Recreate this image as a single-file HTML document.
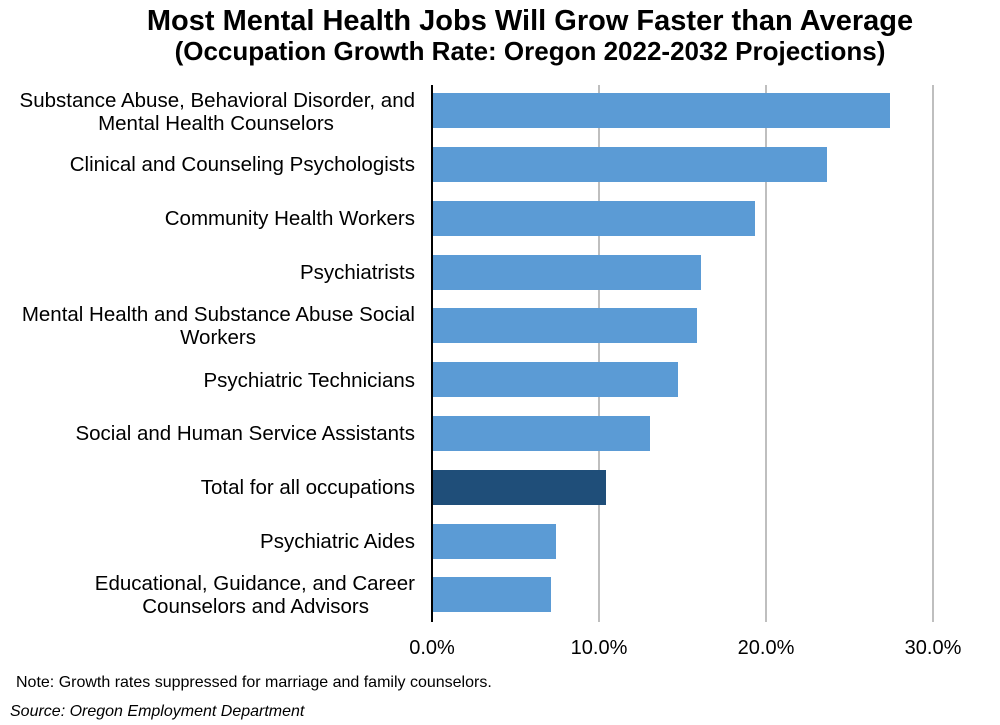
<!DOCTYPE html>
<html><head><meta charset="utf-8"><style>
html,body{margin:0;padding:0;background:#fff;}
svg{display:block;font-family:"Liberation Sans",Arial,sans-serif;}
</style></head><body>
<svg width="1000" height="725" viewBox="0 0 1000 725" xmlns="http://www.w3.org/2000/svg">
<text x="530" y="30" text-anchor="middle" font-size="29" font-weight="bold" fill="#000">Most Mental Health Jobs Will Grow Faster than Average</text>
<text x="530" y="60" text-anchor="middle" font-size="26" font-weight="bold" fill="#000">(Occupation Growth Rate: Oregon 2022-2032 Projections)</text>
<g stroke="#bfbfbf" stroke-width="2">
<line x1="599" y1="85" x2="599" y2="622"/>
<line x1="766" y1="85" x2="766" y2="622"/>
<line x1="933" y1="85" x2="933" y2="622"/>
</g>
<g fill="#5B9BD5">
<rect x="432" y="93" width="458" height="35"/>
<rect x="432" y="147" width="395" height="35"/>
<rect x="432" y="201" width="323" height="35"/>
<rect x="432" y="255" width="269" height="35"/>
<rect x="432" y="308" width="265" height="35"/>
<rect x="432" y="362" width="246" height="35"/>
<rect x="432" y="416" width="218" height="35"/>
<rect x="432" y="470" width="174" height="35" fill="#1F4E79"/>
<rect x="432" y="524" width="124" height="35"/>
<rect x="432" y="577" width="119" height="35"/>
</g>
<line x1="432" y1="85" x2="432" y2="622" stroke="#000" stroke-width="2"/>
<g font-size="20.5" fill="#000" text-anchor="end">
<text x="415" y="107">Substance Abuse, Behavioral Disorder, and</text>
<text x="216" y="130" text-anchor="middle">Mental Health Counselors</text>
<text x="415" y="171">Clinical and Counseling Psychologists</text>
<text x="415" y="225">Community Health Workers</text>
<text x="415" y="279">Psychiatrists</text>
<text x="415" y="321">Mental Health and Substance Abuse Social</text>
<text x="256" y="344">Workers</text>
<text x="415" y="387">Psychiatric Technicians</text>
<text x="415" y="440">Social and Human Service Assistants</text>
<text x="415" y="494">Total for all occupations</text>
<text x="415" y="548">Psychiatric Aides</text>
<text x="415" y="590">Educational, Guidance, and Career</text>
<text x="369" y="613">Counselors and Advisors</text>
</g>
<g font-size="20" fill="#000" text-anchor="middle">
<text x="432" y="654">0.0%</text>
<text x="599" y="654">10.0%</text>
<text x="766" y="654">20.0%</text>
<text x="933" y="654">30.0%</text>
</g>
<text x="16" y="687" font-size="16" fill="#000">Note: Growth rates suppressed for marriage and family counselors.</text>
<text x="10" y="716" font-size="16" font-style="italic" fill="#000">Source: Oregon Employment Department</text>
</svg>
</body></html>
